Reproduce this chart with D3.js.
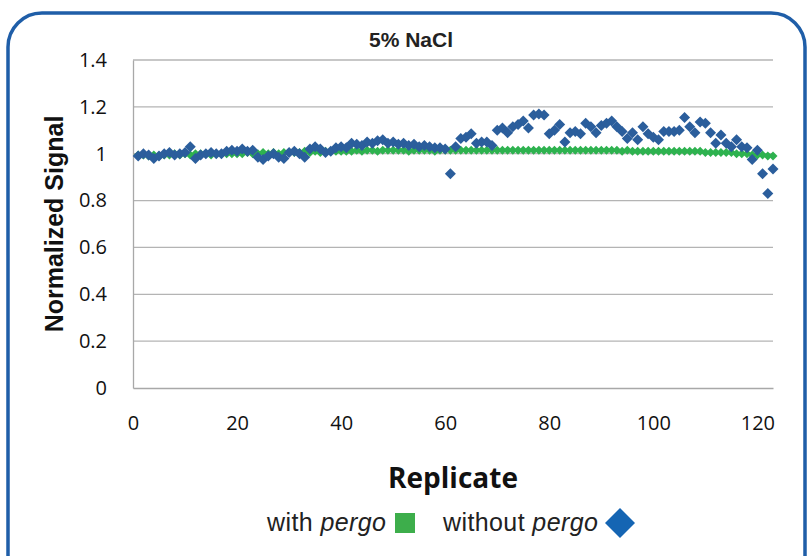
<!DOCTYPE html>
<html><head><meta charset="utf-8">
<script src="https://cdn.jsdelivr.net/npm/d3@7"></script>
<style>html,body{margin:0;padding:0;background:#fff;}svg{display:block;}</style>
</head><body>
<svg id="chart" width="808" height="556"></svg>
<script>
const title = "5% NaCl";
const xTicks = [0, 20, 40, 60, 80, 100, 120];
const yTicks = [0, 0.2, 0.4, 0.6, 0.8, 1, 1.2, 1.4];
const withPergo = [
0.995,0.995,0.99,0.995,0.99,0.995,0.995,1.0,0.995,1.0,
0.995,1.0,1.0,1.0,0.995,1.0,1.0,1.0,1.0,1.0,
1.0,1.005,1.0,1.0,1.005,1.0,1.005,1.0,1.005,1.005,
1.005,1.005,1.01,1.005,1.01,1.005,1.01,1.01,1.01,1.01,
1.01,1.01,1.015,1.01,1.015,1.015,1.01,1.015,1.015,1.015,
1.015,1.015,1.01,1.015,1.015,1.015,1.015,1.01,1.015,1.015,
1.015,1.015,1.015,1.015,1.015,1.015,1.015,1.015,1.015,1.015,
1.015,1.015,1.015,1.015,1.015,1.015,1.015,1.015,1.015,1.015,
1.015,1.015,1.015,1.015,1.015,1.015,1.015,1.015,1.015,1.015,
1.015,1.015,1.015,1.01,1.015,1.01,1.01,1.01,1.01,1.01,
1.01,1.01,1.01,1.01,1.01,1.01,1.01,1.01,1.01,1.005,
1.005,1.005,1.005,1.005,1.005,1.0,1.0,1.0,0.995,0.995,
0.995,0.99,0.99];
const withoutPergo = [
0.99,1.0,0.995,0.98,0.99,1.0,1.005,0.995,1.0,1.005,
1.03,0.98,0.995,1.0,1.005,1.0,1.0,1.01,1.015,1.01,
1.02,1.01,1.015,0.985,0.975,0.99,1.0,0.985,0.98,1.005,
1.01,1.0,0.985,1.02,1.03,1.02,1.005,1.01,1.025,1.03,
1.025,1.045,1.04,1.035,1.05,1.045,1.055,1.06,1.045,1.05,
1.04,1.045,1.035,1.04,1.03,1.035,1.03,1.025,1.025,1.02,
0.915,1.03,1.065,1.07,1.085,1.045,1.05,1.05,1.035,1.1,
1.11,1.09,1.115,1.125,1.14,1.11,1.165,1.17,1.165,1.085,
1.1,1.125,1.05,1.09,1.095,1.085,1.13,1.115,1.09,1.12,
1.13,1.14,1.115,1.095,1.065,1.09,1.06,1.115,1.085,1.07,
1.06,1.095,1.095,1.095,1.1,1.155,1.115,1.09,1.135,1.13,
1.09,1.045,1.08,1.045,1.03,1.06,1.03,1.025,0.975,1.015,
0.915,0.83,0.935];

const svg = d3.select("#chart");
const x = d3.scaleLinear().domain([0, 123]).range([133, 773]);
const y = d3.scaleLinear().domain([0, 1.4]).range([388, 60]);

// frame
svg.append("rect").attr("x", 8).attr("y", 13).attr("width", 797).attr("height", 600)
  .attr("rx", 34).attr("ry", 34).attr("fill", "#fff")
  .attr("stroke", "#1f5ea8").attr("stroke-width", 3.5);

// gridlines
svg.append("g").selectAll("line").data(yTicks.filter(d => d > 0)).join("line")
  .attr("x1", x(0)).attr("x2", x(123)).attr("y1", d => y(d)).attr("y2", d => y(d))
  .attr("stroke", "#b4b4b4").attr("stroke-width", 1.3);

// axes
const yAxis = d3.axisLeft(y).tickValues(yTicks).tickSize(0).tickPadding(26)
  .tickFormat(d => d3.format("~g")(d));
const gy = svg.append("g").attr("transform", `translate(${x(0)},0)`).call(yAxis);
gy.select(".domain").attr("stroke", "#a8a8a8").attr("stroke-width", 1.3);
gy.selectAll("text").attr("font-family", "'Open Sans', sans-serif").attr("font-size", 20).attr("fill", "#111");

const xAxis = d3.axisBottom(x).tickValues(xTicks).tickSize(0).tickPadding(28);
const gx = svg.append("g").attr("transform", `translate(0,${y(0)})`).call(xAxis);
gx.select(".domain").attr("stroke", "#a8a8a8").attr("stroke-width", 1.3);
gx.selectAll("text").attr("font-family", "'Open Sans', sans-serif").attr("font-size", 20).attr("fill", "#111");

const diamond = r => `M0,${-r}L${r},0L0,${r}L${-r},0Z`;

svg.append("g").selectAll("path").data(withPergo).join("path")
  .attr("transform", (d, i) => `translate(${x(i + 1)},${y(d)})`)
  .attr("d", diamond(4.5)).attr("fill", "#2eb24f");

svg.append("g").selectAll("path").data(withoutPergo).join("path")
  .attr("transform", (d, i) => `translate(${x(i + 1)},${y(d)})`)
  .attr("d", diamond(5.5)).attr("fill", "#2b5e9c");

// titles
svg.append("text").attr("x", 411).attr("y", 47).attr("text-anchor", "middle")
  .attr("font-family", "'Liberation Sans', Arial, sans-serif").attr("font-weight", "bold")
  .attr("font-size", 21).attr("fill", "#222").text(title);

svg.append("text").attr("transform", "translate(63,224) rotate(-90)").attr("text-anchor", "middle")
  .attr("font-family", "'Liberation Sans', Arial, sans-serif").attr("font-weight", "bold")
  .attr("font-size", 25).attr("fill", "#111").text("Normalized Signal");

svg.append("text").attr("x", 453).attr("y", 488).attr("text-anchor", "middle")
  .attr("font-family", "'Open Sans', sans-serif").attr("font-weight", "bold")
  .attr("font-size", 28).attr("fill", "#111").text("Replicate");

// legend
const leg = svg.append("g").attr("font-family", "'Liberation Sans', Arial, sans-serif")
  .attr("font-size", 25).attr("letter-spacing", 0.4).attr("fill", "#222");
const t1 = leg.append("text").attr("x", 267).attr("y", 531);
t1.append("tspan").text("with ");
t1.append("tspan").attr("font-style", "italic").text("pergo");
leg.append("rect").attr("x", 395).attr("y", 513).attr("width", 20).attr("height", 20).attr("fill", "#3dae4b");
const t2 = leg.append("text").attr("x", 443).attr("y", 531);
t2.append("tspan").text("without ");
t2.append("tspan").attr("font-style", "italic").text("pergo");
leg.append("path").attr("transform", "translate(620,523)").attr("d", diamond(15)).attr("fill", "#1565b3");
</script>
</body></html>
